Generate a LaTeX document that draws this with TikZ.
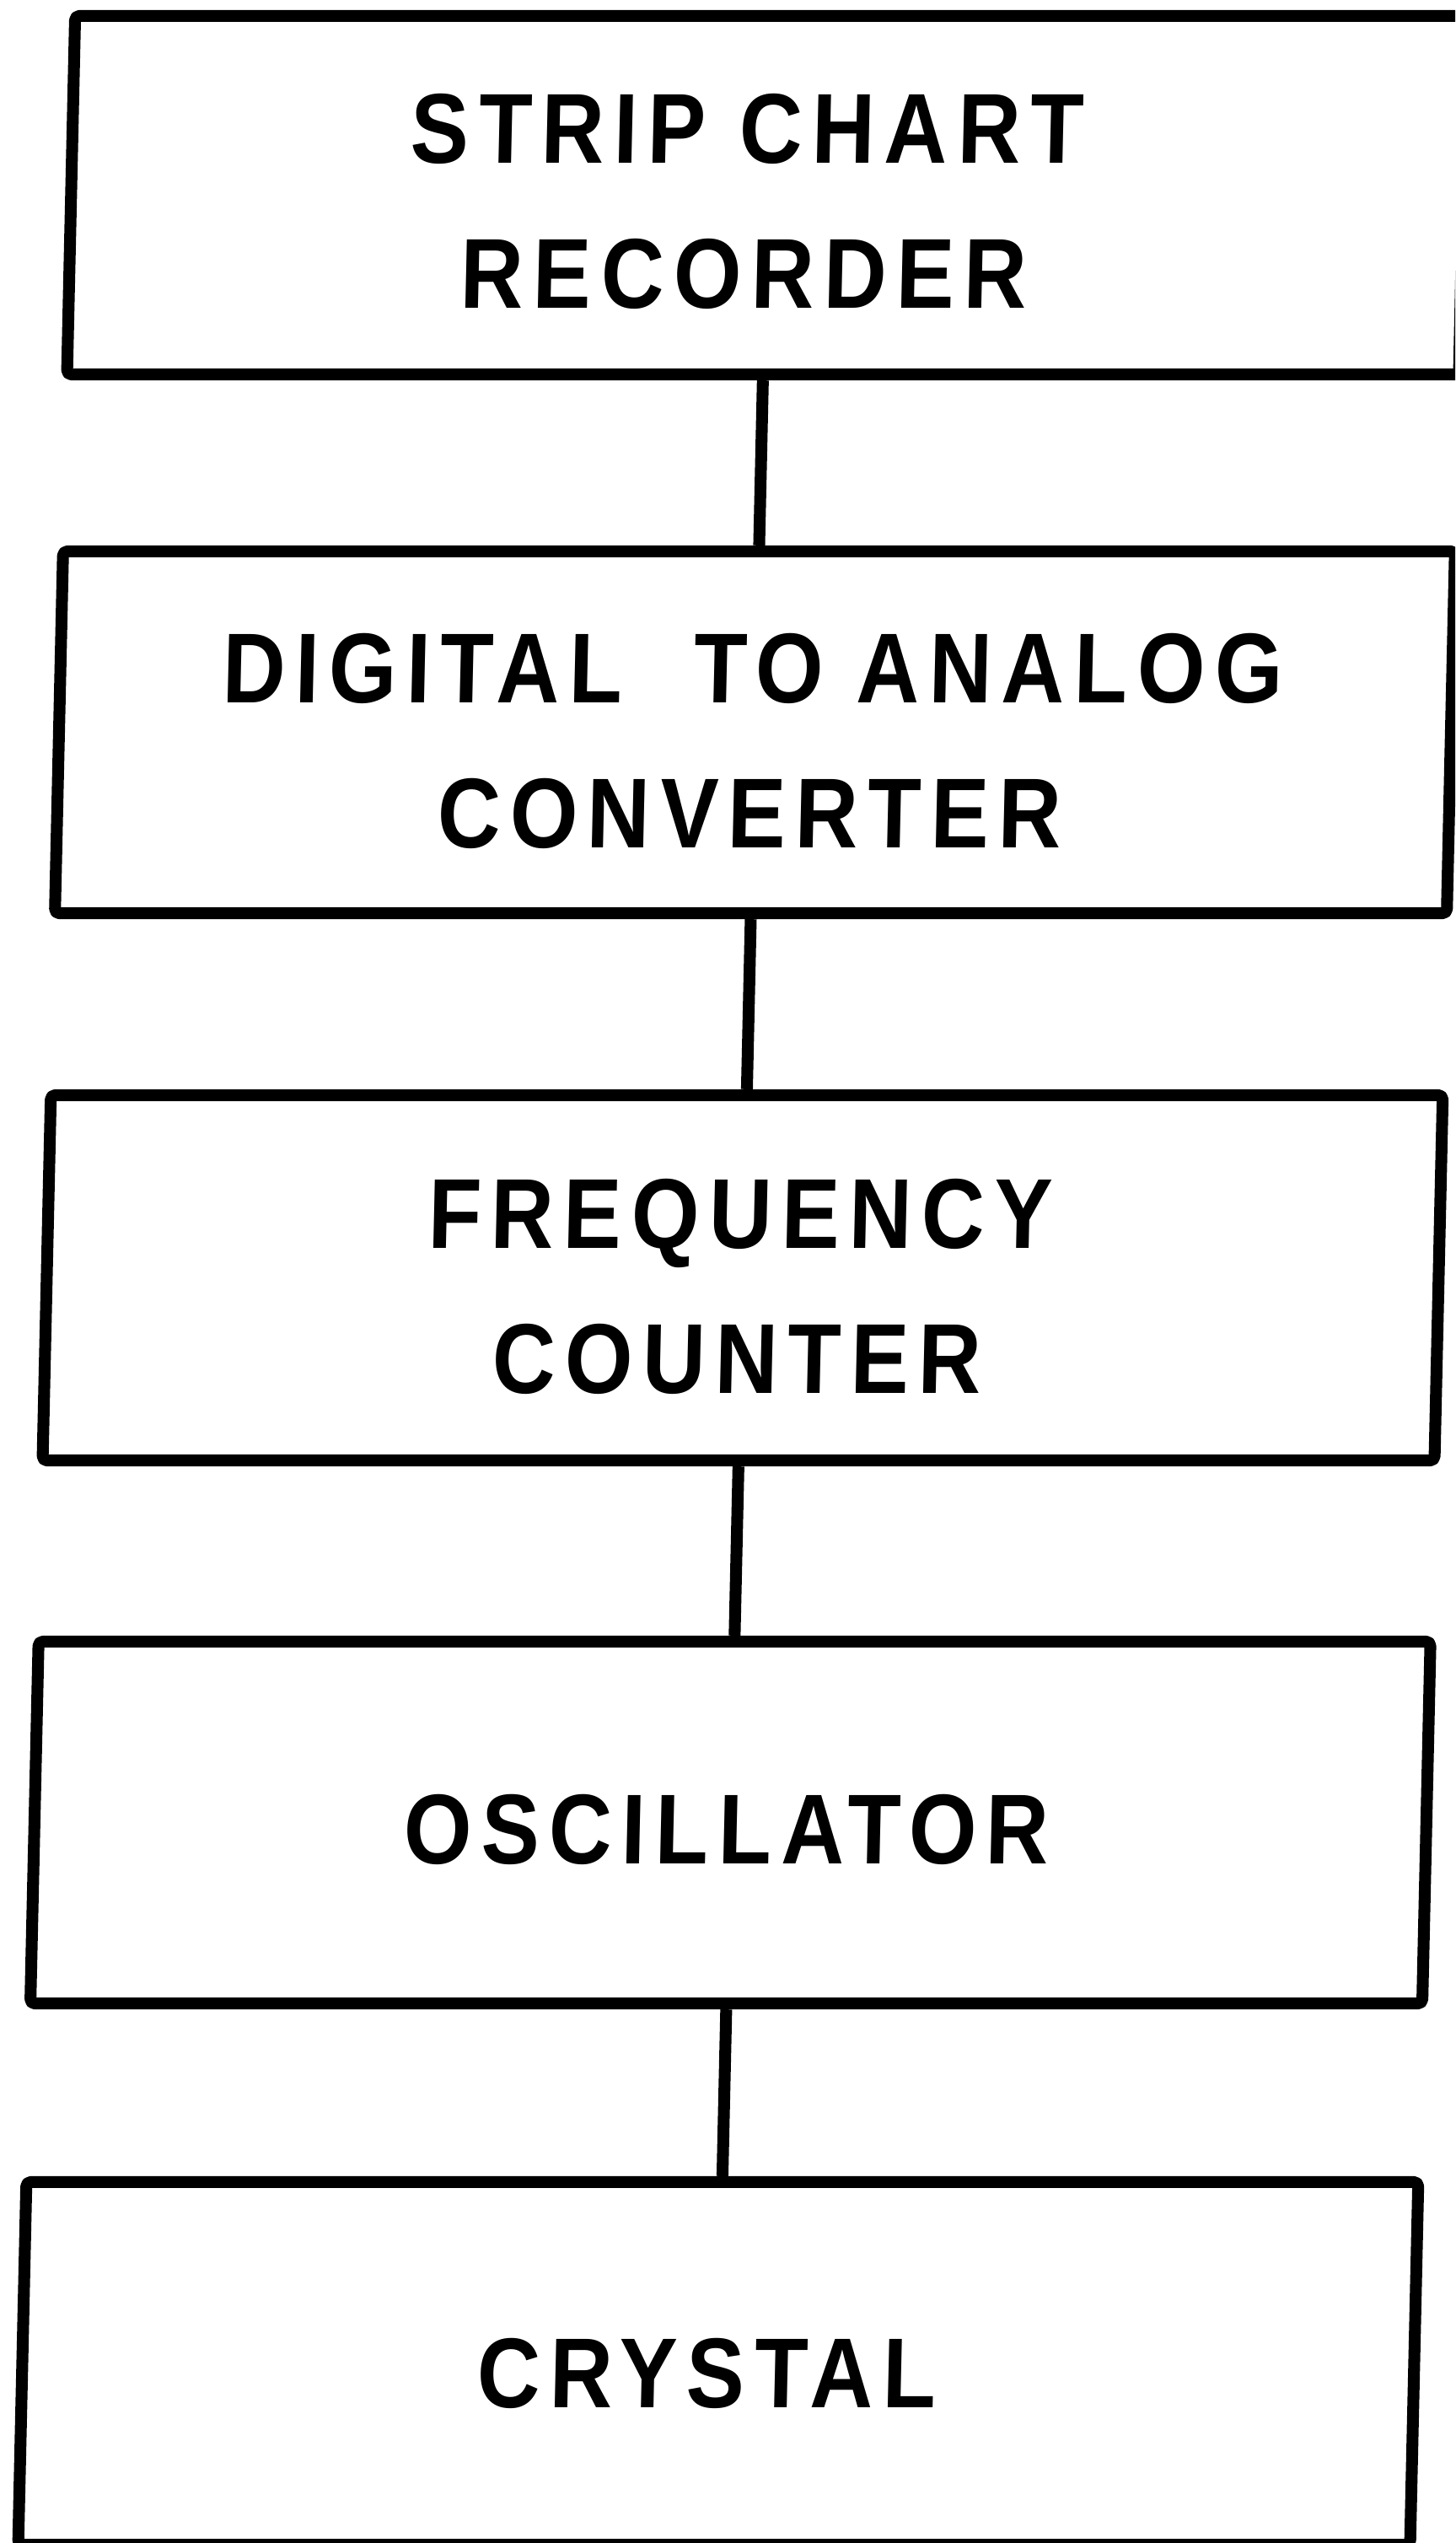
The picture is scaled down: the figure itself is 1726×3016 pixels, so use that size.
\documentclass[tikz,border=0pt]{standalone}
\usepackage{fontspec}
\newfontfamily\lblfont{Liberation Sans}[FakeStretch=0.88,LetterSpace=9.5]
\begin{document}
\begin{tikzpicture}[x=0.01cm,y=-0.01cm,
  blk/.style={draw=black, line width=4pt, line join=round, rounded corners=1.5pt,
              minimum width=16.5cm, inner sep=0pt, transform shape},
  lbl/.style={font=\lblfont\bfseries\fontsize{33.5}{48.9}\selectfont, align=center,
              inner sep=0pt, transform shape},
  wire/.style={line width=4pt}]
\clip (0,0) rectangle (1726,3016);
\fill[white] (0,0) rectangle (1726,3016);
\begin{scope}[xslant=0.0225]
  \node[blk, minimum height=4.25cm] (rec)  at (915,231.5)  {};
  \node[blk, minimum height=4.29cm] (dac)  at (915,868.5)  {};
  \node[blk, minimum height=4.33cm] (cnt)  at (915,1515.5) {};
  \node[blk, minimum height=4.29cm] (osc)  at (915,2161.5) {};
  \node[blk, minimum height=4.30cm] (xtal) at (915,2803)   {};

  \node[lbl] (t1) at (890,238.5)  {STRIP CHART\\RECORDER};
  \node[lbl] (t2) at (911,878.5)  {DIGITAL\hspace{0.38em} TO ANALOG\\CONVERTER};
  \node[lbl] (t3) at (911,1525.5) {FREQUENCY\\COUNTER};
  \node[lbl] (t4) at (911,2170)   {OSCILLATOR};
  \node[lbl] (t5) at (902,2815)   {CRYSTAL};

  \draw[wire] (rec.south) -- (dac.north);
  \draw[wire] (dac.south) -- (cnt.north);
  \draw[wire] (cnt.south) -- (osc.north);
  \draw[wire] (osc.south) -- (xtal.north);
\end{scope}
\end{tikzpicture}
\end{document}
